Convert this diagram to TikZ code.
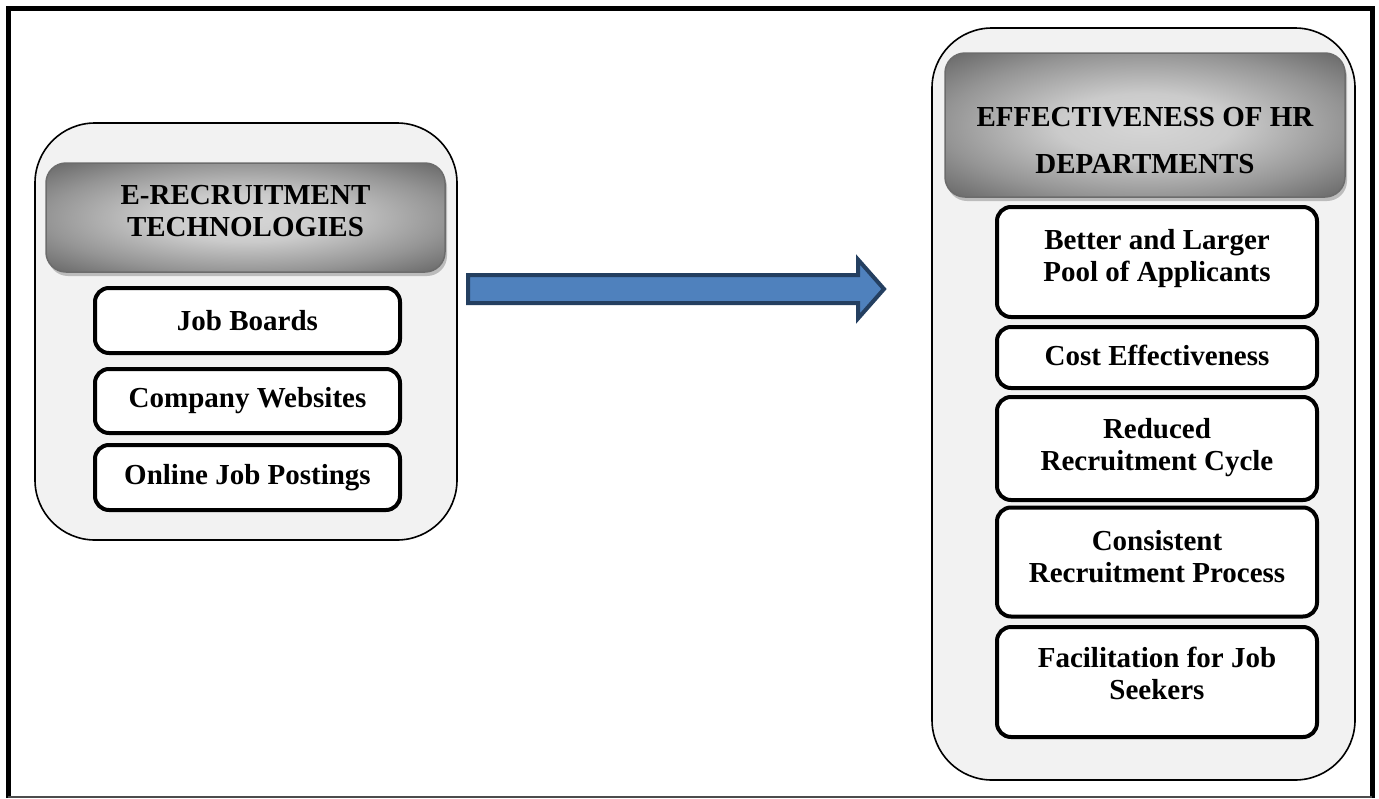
\documentclass[tikz,border=0pt]{standalone}
\usepackage{fontspec}
\setmainfont{Liberation Serif}
\usetikzlibrary{shadows}
\definecolor{cfill}{HTML}{F2F2F2}
\definecolor{hlight}{HTML}{D6D6D6}
\definecolor{hmid}{HTML}{CBCBCB}
\definecolor{hedge}{HTML}{959595}
\definecolor{hdark}{HTML}{646464}
\definecolor{afill}{HTML}{4F81BD}
\definecolor{aline}{HTML}{243F60}
\pgfdeclareradialshading{hdrshade}{\pgfpoint{0bp}{0bp}}{color(0bp)=(hlight); color(11bp)=(hmid); color(25bp)=(hedge); color(36bp)=(hdark); color(50bp)=(hdark)}
\begin{document}
\begin{tikzpicture}[x=1pt,y=-1pt,
  container/.style={draw=black, line width=1.6pt, fill=cfill, rounded corners=60pt, inner sep=0pt},
  header/.style={draw=gray!85!black, line width=1.5pt, shading=hdrshade, rounded corners=20pt, inner sep=0pt,
    drop shadow={shadow xshift=2pt, shadow yshift=-4pt, fill=gray!70, opacity=0.7}},
  itembox/.style={draw=black, line width=4pt, fill=white, rounded corners=14pt, inner sep=0pt},
  txt/.style={font=\bfseries\fontsize{29}{32}\selectfont, align=center, inner sep=0pt},
  bigarrow/.style={fill=afill, draw=aline, line width=4pt, line join=miter}
]
\useasboundingbox (0,0) rectangle (1379,798);
% outer frame
\draw[line width=5pt] (8,798) -- (8,8.5) -- (1372,8.5) -- (1372,798);
\draw[line width=1.5pt, gray!60!black] (8,796.8) -- (1372,796.8);

% left container
\node[container, minimum width=422pt, minimum height=417pt] (leftc) at (246,331.5) {};
\node[header, minimum width=399pt, minimum height=109pt] (lhead) at (245.5,217.5) {};
\node[txt] (lheadt) at ([yshift=6.5pt]lhead.center) {E-RECRUITMENT\\TECHNOLOGIES};
\node[itembox, minimum width=305pt, minimum height=65pt] (jb) at (247.5,320.5) {};
\node[txt] at (jb.center) {Job Boards};
\node[itembox, minimum width=305pt, minimum height=64pt] (cw) at (247.5,401) {};
\node[txt] at (cw.center) {Company Websites};
\node[itembox, minimum width=305pt, minimum height=65pt] (oj) at (247.5,477.5) {};
\node[txt] at (oj.center) {Online Job Postings};

% right container
\node[container, minimum width=423pt, minimum height=752pt] (rightc) at (1143.5,404) {};
\node[header, minimum width=400pt, minimum height=144pt] (rhead) at (1145,125) {};
\node[txt, font=\bfseries\fontsize{29}{47}\selectfont] (rheadt) at ([yshift=-16pt]rhead.center) {EFFECTIVENESS OF HR\\DEPARTMENTS};
\node[itembox, minimum width=320pt, minimum height=110pt] (r1) at (1157,262) {};
\node[txt] at ([yshift=3pt]r1.center) {Better and Larger\\Pool of Applicants};
\node[itembox, minimum width=320pt, minimum height=61pt] (r2) at (1157,357.5) {};
\node[txt] at ([yshift=2pt]r2.center) {Cost Effectiveness};
\node[itembox, minimum width=320pt, minimum height=103pt] (r3) at (1157,448.5) {};
\node[txt] at ([yshift=0.5pt]r3.center) {Reduced\\Recruitment Cycle};
\node[itembox, minimum width=320pt, minimum height=109pt] (r4) at (1157,562) {};
\node[txt] at ([yshift=5.5pt]r4.center) {Consistent\\Recruitment Process};
\node[itembox, minimum width=320pt, minimum height=110pt] (r5) at (1157,682) {};
\node[txt] at ([yshift=9pt]r5.center) {Facilitation for Job\\Seekers};

% block arrow
\draw[bigarrow] (468,275) -- (858,275) -- (858,259.5) -- (884,289) -- (858,318.5) -- (858,303) -- (468,303) -- cycle;
\end{tikzpicture}
\end{document}
